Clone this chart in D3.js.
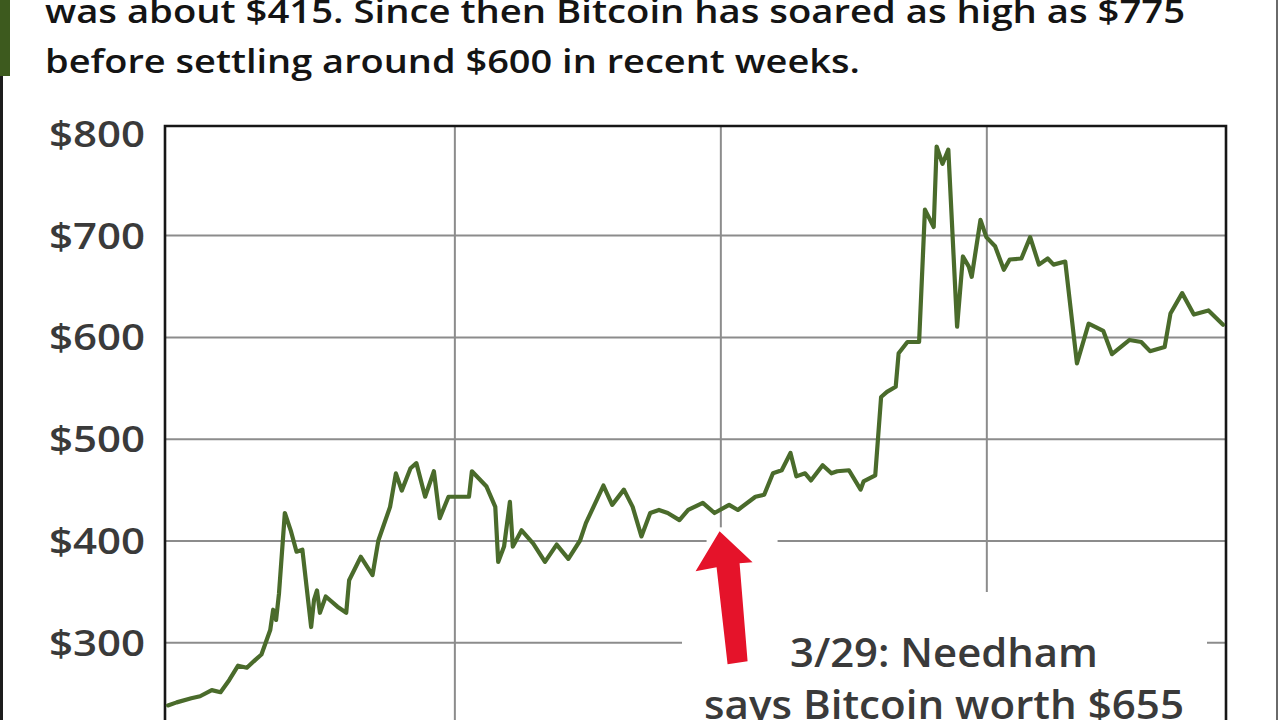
<!DOCTYPE html>
<html><head><meta charset="utf-8">
<script src="https://cdn.jsdelivr.net/npm/d3@7/dist/d3.min.js"></script>
<style>html,body{margin:0;padding:0;background:#fff;overflow:hidden}</style>
</head><body>
<svg id="c" width="1280" height="720" xmlns="http://www.w3.org/2000/svg"></svg>
<script>
// ---- data ----
const dates = ["2015-09-25","2015-09-28","2015-10-03","2015-10-06","2015-10-10","2015-10-13","2015-10-16","2015-10-19","2015-10-22","2015-10-25",
"2015-10-27","2015-10-30","2015-10-31","2015-11-01","2015-11-02","2015-11-04","2015-11-06","2015-11-08","2015-11-10","2015-11-13",
"2015-11-14","2015-11-15","2015-11-16","2015-11-18","2015-11-22","2015-11-25","2015-11-26","2015-11-30","2015-12-04","2015-12-06",
"2015-12-10","2015-12-12","2015-12-14","2015-12-17","2015-12-19","2015-12-22","2015-12-25","2015-12-27","2015-12-30","2016-01-06",
"2016-01-07","2016-01-12","2016-01-15","2016-01-16","2016-01-18","2016-01-20","2016-01-21","2016-01-24","2016-01-28","2016-02-01",
"2016-02-05","2016-02-09","2016-02-13","2016-02-15","2016-02-21","2016-02-24","2016-02-28","2016-03-02","2016-03-05","2016-03-08",
"2016-03-11","2016-03-14","2016-03-18","2016-03-21","2016-03-26","2016-03-30","2016-04-04","2016-04-07","2016-04-13","2016-04-16",
"2016-04-19","2016-04-22","2016-04-25","2016-04-27","2016-04-30","2016-05-02","2016-05-06","2016-05-09","2016-05-11","2016-05-15",
"2016-05-19","2016-05-20","2016-05-24","2016-05-26","2016-05-28","2016-05-31","2016-06-01","2016-06-04","2016-06-08","2016-06-10",
"2016-06-13","2016-06-14","2016-06-16","2016-06-18","2016-06-21","2016-06-23","2016-06-25","2016-06-26","2016-06-29","2016-07-01",
"2016-07-04","2016-07-07","2016-07-09","2016-07-13","2016-07-16","2016-07-19","2016-07-22","2016-07-24","2016-07-28","2016-08-01",
"2016-08-05","2016-08-10","2016-08-13","2016-08-19","2016-08-23","2016-08-26","2016-08-31","2016-09-02","2016-09-06","2016-09-10",
"2016-09-15","2016-09-20"];
const prices = [238,241,245,247,253,251,263,277,275,283,
288,312,332,322,348,427,410,389,391,315,
342,351,329,345,335,329,361,384,366,400,
433,466,449,471,476,443,468,422,443,443,
468,453,433,379,394,438,394,410,397,379,
396,382,400,417,454,435,450,433,404,427,
430,427,420,430,437,427,435,430,443,445,
466,469,486,463,466,459,474,466,468,469,
450,458,464,541,546,551,584,595,595,725,
708,787,770,784,610,679,669,659,715,698,
689,666,676,677,698,671,677,671,674,574,
613,606,583,597,595,586,590,623,643,622,
626,612];
const yTicks = [300, 400, 500, 600, 700, 800];
const yTickLabels = ["$300", "$400", "$500", "$600", "$700", "$800"];
const gridDates = ["2016-01-01", "2016-04-01", "2016-07-01"];
const domainDates = ["2015-09-24", "2016-09-21"];
const titleLines = ["was about $415. Since then Bitcoin has soared as high as $775",
                    "before settling around $600 in recent weeks."];
const noteLines = ["3/29: Needham", "says Bitcoin worth $655"];
const noteDate = "2016-03-29";
const noteValue = 409;

// ---- layout ----
const parse = d3.utcParse("%Y-%m-%d");
const L = 165, R = 1226, T = 126, B = 770;
const x = d3.scaleUtc().domain(domainDates.map(parse)).range([L, R]);
const y = d3.scaleLinear().domain([200, 800]).range([744.1, 133.3]);
const svg = d3.select("#c");
const FONT = "'Open Sans', 'Noto Sans', sans-serif";

// page decorations
svg.append("rect").attr("x", 0).attr("y", 0).attr("width", 1280).attr("height", 720).attr("fill", "#fff");
svg.append("rect").attr("x", 0).attr("y", 0).attr("width", 10).attr("height", 76).attr("fill", "#3d5a1e");
svg.append("rect").attr("x", 0).attr("y", 76).attr("width", 3).attr("height", 650).attr("fill", "#1c1c1c");
svg.append("rect").attr("x", 1276).attr("y", 0).attr("width", 2).attr("height", 720).attr("fill", "#6a6a6a");

// title
const titleG = svg.append("g");
const titleBase = [23, 73], titleW = [1140, 815];
titleLines.forEach((t, i) => {
  titleG.append("text").attr("x", 45).attr("y", titleBase[i])
    .attr("font-family", FONT).attr("font-size", 33).attr("font-weight", 600)
    .attr("fill", "#141414")
    .attr("textLength", titleW[i]).attr("lengthAdjust", "spacingAndGlyphs")
    .text(t);
});

// horizontal gridlines
const gy = svg.append("g").attr("transform", `translate(${L},0)`)
  .call(d3.axisLeft(y).tickValues(yTicks.filter(v => v < 800)).tickSize(-(R - L)).tickFormat(""));
gy.select(".domain").remove();
gy.selectAll("line").attr("stroke", "#8c8c8c").attr("stroke-width", 2);

// vertical gridlines
const gx = svg.append("g").attr("transform", `translate(0,${B})`)
  .call(d3.axisBottom(x).tickValues(gridDates.map(parse)).tickSize(-(B - T)).tickFormat(""));
gx.select(".domain").remove();
gx.selectAll("line").attr("stroke", "#8c8c8c").attr("stroke-width", 2);

// frame
svg.append("path")
  .attr("d", `M${L},${B}V${T}H${R}V${B}`)
  .attr("fill", "none").attr("stroke", "#161616").attr("stroke-width", 2.6);

// y labels
svg.append("g").selectAll("text").data(yTicks).join("text")
  .attr("x", 145).attr("y", d => y(d) + 13.5)
  .attr("text-anchor", "end")
  .attr("font-family", FONT).attr("font-size", 36).attr("font-weight", 600)
  .attr("fill", "#3a3a3a")
  .attr("textLength", 96).attr("lengthAdjust", "spacingAndGlyphs")
  .text((d, i) => yTickLabels[i]);

// price line
const series = dates.map((d, i) => ({ date: parse(d), value: prices[i] }));
svg.append("path").datum(series)
  .attr("fill", "none").attr("stroke", "#4a6b2b").attr("stroke-width", 4.2)
  .attr("stroke-linejoin", "round").attr("stroke-linecap", "round")
  .attr("d", d3.line().x(d => x(d.date)).y(d => y(d.value)));

// annotation
const tipX = x(parse(noteDate)) + 8, tipY = y(noteValue);
svg.append("rect").attr("x", tipX - 13).attr("y", tipY - 4).attr("width", 71).attr("height", 75).attr("fill", "#fff");
svg.append("rect").attr("x", 682).attr("y", 592).attr("width", 525).attr("height", 140).attr("fill", "#fff");
svg.append("path")
  .attr("transform", `translate(${tipX},${tipY})`)
  .attr("d", "M0,0 L33,31 L20,32 L28,130 L8,133 L-3,36 L-24,40 Z")
  .attr("fill", "#e5132a");
const noteBase = [667, 719], noteW = [308, 480];
noteLines.forEach((t, i) => {
  svg.append("text").attr("x", 944).attr("y", noteBase[i])
    .attr("text-anchor", "middle")
    .attr("font-family", FONT).attr("font-size", 40).attr("font-weight", 600)
    .attr("fill", "#3a3a3a")
    .attr("textLength", noteW[i]).attr("lengthAdjust", "spacingAndGlyphs")
    .text(t);
});
</script>
</body></html>
